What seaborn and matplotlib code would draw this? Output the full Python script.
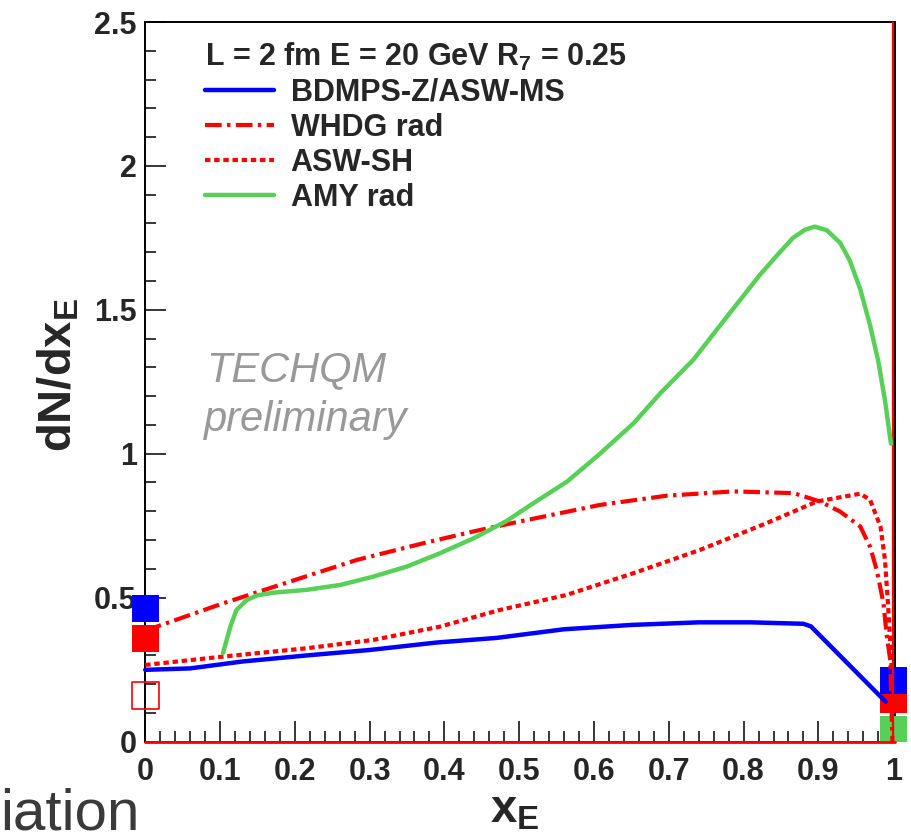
import numpy as np
import matplotlib
matplotlib.use("Agg")
import matplotlib.pyplot as plt
import seaborn as sns
import pandas as pd

# ---------------- data ----------------
bdmps_x = [0.0, 0.06, 0.13, 0.22, 0.30, 0.39, 0.47, 0.56, 0.65, 0.74, 0.81, 0.88, 0.89, 0.99]
bdmps_y = [0.249, 0.254, 0.278, 0.300, 0.318, 0.344, 0.360, 0.390, 0.405, 0.414, 0.414, 0.409, 0.400, 0.138]

whdg_x = [0.0, 0.104, 0.194, 0.283, 0.372, 0.439, 0.50, 0.608, 0.697, 0.786, 0.867, 0.902,
          0.929, 0.956, 0.969, 0.978, 0.987, 0.991, 0.996, 0.999]
whdg_y = [0.385, 0.480, 0.556, 0.631, 0.689, 0.730, 0.764, 0.822, 0.854, 0.869, 0.863, 0.834,
          0.799, 0.747, 0.677, 0.596, 0.480, 0.376, 0.283, 0.0]

aswsh_x = [0.0, 0.104, 0.216, 0.305, 0.394, 0.474, 0.563, 0.653, 0.742, 0.831, 0.898, 0.956,
           0.969, 0.983, 0.989, 0.993, 0.998]
aswsh_y = [0.266, 0.295, 0.324, 0.353, 0.399, 0.457, 0.509, 0.585, 0.666, 0.759, 0.834, 0.861,
           0.840, 0.747, 0.631, 0.480, 0.250]

amy_x = [0.104, 0.114, 0.122, 0.136, 0.150, 0.171, 0.216, 0.261, 0.305, 0.350, 0.394, 0.439,
         0.483, 0.519, 0.564, 0.608, 0.653, 0.689, 0.733, 0.778, 0.822, 0.845, 0.866, 0.882,
         0.895, 0.911, 0.929, 0.942, 0.956, 0.969, 0.980, 0.989, 0.997]
amy_y = [0.307, 0.400, 0.457, 0.492, 0.508, 0.517, 0.527, 0.544, 0.573, 0.608, 0.654, 0.706,
         0.766, 0.828, 0.903, 1.000, 1.106, 1.211, 1.327, 1.477, 1.622, 1.690, 1.750, 1.778,
         1.789, 1.777, 1.733, 1.671, 1.571, 1.447, 1.322, 1.185, 1.035]

# end-point squares (x = 0 and x = 1)
sq_x = [0.0, 0.0, 1.0, 1.0, 1.0]
sq_y = [0.357, 0.462, 0.146, 0.213, 0.043]
sq_c = ["#ff0000", "#0000ff", "#ff0000", "#0000ff", "#58d058"]
open_sq_x = [0.0]
open_sq_y = [0.16]

xticks = [0.0, 0.1, 0.2, 0.3, 0.4, 0.5, 0.6, 0.7, 0.8, 0.9, 1.0]
xtick_labels = ["0", "0.1", "0.2", "0.3", "0.4", "0.5", "0.6", "0.7", "0.8", "0.9", "1"]
yticks = [0.0, 0.5, 1.0, 1.5, 2.0, 2.5]
ytick_labels = ["0", "0.5", "1", "1.5", "2", "2.5"]

labels = ["BDMPS-Z/ASW-MS", "WHDG rad", "ASW-SH", "AMY rad"]
legend_title = r"L = 2 fm E = 20 GeV R$_\mathbf{7}$ = 0.25"

# ---------------- style ----------------
sns.set_style("ticks")
plt.rcParams['font.family'] = ['Liberation Sans', 'DejaVu Sans']
plt.rcParams['font.weight'] = 'bold'
plt.rcParams['mathtext.fontset'] = 'custom'
plt.rcParams['mathtext.rm'] = 'Liberation Sans:bold'
plt.rcParams['mathtext.bf'] = 'Liberation Sans:bold'
plt.rcParams['mathtext.it'] = 'Liberation Sans:italic:bold'

BLUE = "#0000ff"
RED = "#ff0000"
GREEN = "#58d058"

fig = plt.figure(figsize=(9.12, 8.33), dpi=100)
ax = fig.add_axes([145.2 / 912, 1 - 741.5 / 833, (895 - 145.2) / 912, (741.5 - 22) / 833])

# squares (behind the curves)
for xx, yy, cc in zip(sq_x, sq_y, sq_c):
    ax.scatter([xx], [yy], marker="s", s=370, color=cc, edgecolors="none",
               clip_on=False, zorder=3)
ax.scatter(open_sq_x, open_sq_y, marker="s", s=370, facecolors="none",
           edgecolors=RED, linewidths=1.2, clip_on=False, zorder=3)

df_b = pd.DataFrame({"x": bdmps_x, "y": bdmps_y})
df_w = pd.DataFrame({"x": whdg_x, "y": whdg_y})
df_s = pd.DataFrame({"x": aswsh_x, "y": aswsh_y})
df_a = pd.DataFrame({"x": amy_x, "y": amy_y})

sns.lineplot(data=df_b, x="x", y="y", ax=ax, color=BLUE, lw=3.2, sort=False,
             estimator=None, label=labels[0], zorder=5, clip_on=False)
sns.lineplot(data=df_w, x="x", y="y", ax=ax, color=RED, lw=3.0, sort=False,
             estimator=None, label=labels[1], zorder=5, clip_on=False,
             linestyle=(0, (4.0, 1.3, 0.8, 1.3)))
sns.lineplot(data=df_s, x="x", y="y", ax=ax, color=RED, lw=3.0, sort=False,
             estimator=None, label=labels[2], zorder=5, clip_on=False,
             linestyle=(0, (1.3, 0.9)))
sns.lineplot(data=df_a, x="x", y="y", ax=ax, color=GREEN, lw=3.2, sort=False,
             estimator=None, label=labels[3], zorder=5, clip_on=False)

# red lines along the x axis and at x = 1
ax.axhline(0.0, color=RED, lw=2.0, zorder=4, clip_on=False)
ax.axvline(1.0, color=RED, lw=1.6, zorder=4)

ax.set_xlim(0, 1.0024)
ax.set_ylim(0, 2.5)

ax.set_xticks(xticks)
ax.set_xticklabels(xtick_labels)
ax.set_yticks(yticks)
ax.set_yticklabels(ytick_labels)
ax.set_xticks(np.arange(0, 1.0001, 0.02), minor=True)
ax.set_yticks(np.arange(0, 2.5001, 0.1), minor=True)
ax.tick_params(axis="both", which="major", direction="in", length=15, width=1.1,
               labelsize=22, top=False, right=False, color="black")
ax.tick_params(axis="both", which="minor", direction="in", length=8, width=1.1,
               top=False, right=False, color="black")
ax.tick_params(axis="x", which="major", pad=11)
ax.tick_params(axis="y", which="major", pad=6)

for sp in ax.spines.values():
    sp.set_visible(True)
    sp.set_linewidth(1.4)
    sp.set_color("black")

ax.set_xlabel(r"x$_\mathbf{E}$", fontsize=34, fontweight="bold")
ax.set_ylabel(r"dN/dx$_\mathbf{E}$", fontsize=34, fontweight="bold")
ax.xaxis.set_label_coords(0.493, -0.066)
ax.yaxis.set_label_coords(-0.085, 0.51)

leg = ax.legend(loc="upper left", bbox_to_anchor=(205 / 912, 1 - 41 / 833),
                bbox_transform=fig.transFigure, frameon=False, fontsize=22,
                title=legend_title, title_fontproperties={"size": 22, "weight": "bold"},
                alignment="left", handlelength=2.25, handletextpad=0.55,
                labelspacing=0.16, borderpad=0, borderaxespad=0)

ax.text(206 / 912, 1 - 381 / 833, "TECHQM", transform=fig.transFigure, fontsize=30,
        fontstyle="italic", fontweight="normal", color="#999999", ha="left",
        va="baseline")
ax.text(203 / 912, 1 - 431 / 833, "preliminary", transform=fig.transFigure, fontsize=30,
        fontstyle="italic", fontweight="normal", color="#999999", ha="left",
        va="baseline")

fig.text(0.0, 3 / 833, "iation", fontsize=42, fontweight="normal", color="#3a3a3a",
         ha="left", va="baseline")

fig.savefig("out.png", dpi=100)
